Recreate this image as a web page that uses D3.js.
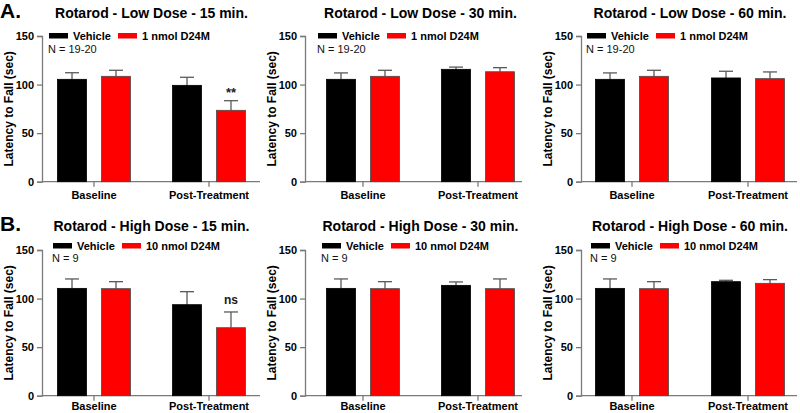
<!DOCTYPE html>
<html>
<head>
<meta charset="utf-8">
<script src="https://cdn.jsdelivr.net/npm/d3@7"></script>
<style>
  html, body { margin: 0; padding: 0; background: #fff; }
  svg { display: block; font-family: Arial, "Liberation Sans", sans-serif; }
</style>
</head>
<body>
<svg id="chart" width="800" height="413"></svg>
<script>
// ---------------- DATA ----------------
const groups = ["Baseline", "Post-Treatment"];
const rowLetters = ["A.", "B."];
const rowDoseNames = ["Low Dose", "High Dose"];
const rowDrugLabels = ["1 nmol D24M", "10 nmol D24M"];
const rowNLabels = ["N = 19-20", "N = 9"];
const timeLabels = ["15 min.", "30 min.", "60 min."];
const yTicks = [0, 50, 100, 150];

// Low dose (row A) means and SEM, per time point: [Baseline, Post-Treatment]
const lowVehicle15 = [105.4, 99.2];   const lowVehicle15Err = [6.8, 8.3];
const lowDrug15    = [108.5, 73.5];   const lowDrug15Err    = [6.2, 9.9];
const lowVehicle30 = [105.4, 115.7];  const lowVehicle30Err = [6.6, 2.3];
const lowDrug30    = [108.5, 113.2];  const lowDrug30Err    = [6.2, 4.2];
const lowVehicle60 = [105.4, 106.8];  const lowVehicle60Err = [6.6, 6.9];
const lowDrug60    = [108.5, 106.1];  const lowDrug60Err    = [6.2, 6.9];

// High dose (row B)
const highVehicle15 = [110.5, 93.7];  const highVehicle15Err = [9.7, 13.4];
const highDrug15    = [110.2, 70.0];  const highDrug15Err    = [7.2, 16.2];
const highVehicle30 = [110.5, 113.6]; const highVehicle30Err = [9.7, 3.5];
const highDrug30    = [110.2, 110.2]; const highDrug30Err    = [7.2, 10.0];
const highVehicle60 = [110.5, 117.4]; const highVehicle60Err = [9.7, 1.4];
const highDrug60    = [110.2, 115.7]; const highDrug60Err    = [7.2, 3.8];

// Significance annotations: [row, col, group, series, text]
const annotations = [
  [0, 0, "Post-Treatment", 1, "**"],
  [1, 0, "Post-Treatment", 1, "ns"]
];

// assemble panels (row-major)
const panelData = [
  [[lowVehicle15, lowVehicle15Err, lowDrug15, lowDrug15Err],
   [lowVehicle30, lowVehicle30Err, lowDrug30, lowDrug30Err],
   [lowVehicle60, lowVehicle60Err, lowDrug60, lowDrug60Err]],
  [[highVehicle15, highVehicle15Err, highDrug15, highDrug15Err],
   [highVehicle30, highVehicle30Err, highDrug30, highDrug30Err],
   [highVehicle60, highVehicle60Err, highDrug60, highDrug60Err]]
];

// ---------------- LAYOUT ----------------
const colAxisX = [42, 305, 581];
const colAxisEnd = [260, 522, 797];
const colCenters = [[94, 209], [363, 478], [632, 748]];
const rowTop = [36, 250];
const rowBottom = [181.7, 395.7];
const rowTitleY = [18, 231];
const rowLegendY = [39.5, 249.5];
const rowLegendDx = [-45, -41];
const rowNY = [53, 262];
const rowXLabelDy = [17, 14.5];
const letterY = [18, 231];
const colors = ["#000000", "#ff0000"];
const axisColor = "#7a7a7a";
const errColor = "#5a5a5a";

const svg = d3.select("#chart");

rowLetters.forEach((L, r) => {
  svg.append("text").attr("x", 0).attr("y", letterY[r])
    .attr("font-size", 21).attr("font-weight", "bold").attr("fill", "#000").text(L);
});

for (let r = 0; r < 2; r++) {
  const y = d3.scaleLinear().domain([0, 150]).range([rowBottom[r], rowTop[r]]);
  for (let c = 0; c < 3; c++) {
    const [veh, vehErr, drug, drugErr] = panelData[r][c];
    const series = ["Vehicle", rowDrugLabels[r]];
    const x = d3.scalePoint().domain(groups).range(colCenters[c]);
    const xs = d3.scaleBand().domain([0, 1]).range([-36.5, 36.5]).paddingInner(0.34);
    const g = svg.append("g");
    const x0 = colAxisX[c];

    // title
    const mid = (colCenters[c][0] + colCenters[c][1]) / 2;
    g.append("text").attr("x", mid).attr("y", rowTitleY[r])
      .attr("text-anchor", "middle").attr("font-size", 14).attr("font-weight", "bold")
      .text(`Rotarod - ${rowDoseNames[r]} - ${timeLabels[c]}`);

    // y axis
    const yAxis = d3.axisLeft(y).tickValues(yTicks).tickSize(5).tickPadding(3);
    const ya = g.append("g").attr("transform", `translate(${x0},0)`).call(yAxis);
    ya.select(".domain").attr("stroke", axisColor).attr("stroke-width", 1.3);
    ya.selectAll(".tick line").attr("stroke", axisColor).attr("stroke-width", 1.3);
    ya.selectAll(".tick text").attr("font-size", 11).attr("font-weight", "bold")
      .attr("fill", "#000").attr("font-family", "Arial, 'Liberation Sans', sans-serif");

    // y label
    g.append("text")
      .attr("transform", `translate(${x0 - 33},${(rowTop[r] + rowBottom[r]) / 2}) rotate(-90)`)
      .attr("text-anchor", "middle").attr("dominant-baseline", "central")
      .attr("font-size", 12).attr("font-weight", "bold").text("Latency to Fall (sec)");

    // x axis line
    g.append("line").attr("x1", x0).attr("x2", colAxisEnd[c])
      .attr("y1", y(0)).attr("y2", y(0))
      .attr("stroke", axisColor).attr("stroke-width", 1.3);
    groups.forEach(gr => {
      g.append("line").attr("x1", x(gr)).attr("x2", x(gr))
        .attr("y1", y(0)).attr("y2", y(0) + 5)
        .attr("stroke", axisColor).attr("stroke-width", 1.3);
      g.append("text").attr("x", x(gr)).attr("y", y(0) + rowXLabelDy[r])
        .attr("text-anchor", "middle").attr("font-size", 11).attr("font-weight", "bold")
        .text(gr);
    });

    // bars and error bars
    const seriesVals = [[veh, vehErr], [drug, drugErr]];
    seriesVals.forEach(([vals, errs], s) => {
      groups.forEach((gr, i) => {
        const bx = x(gr) + xs(s);
        const bw = xs.bandwidth();
        const cx = bx + bw / 2;
        const top = y(vals[i]);
        const et = y(vals[i] + errs[i]);
        g.append("line").attr("x1", cx).attr("x2", cx).attr("y1", top).attr("y2", et)
          .attr("stroke", errColor).attr("stroke-width", 1.3);
        g.append("line").attr("x1", cx - 7).attr("x2", cx + 7).attr("y1", et).attr("y2", et)
          .attr("stroke", errColor).attr("stroke-width", 1.3);
        g.append("rect").attr("x", bx).attr("y", top).attr("width", bw)
          .attr("height", y(0) - top).attr("fill", colors[s])
          .attr("stroke", s === 0 ? "#000" : "#4a4a4a").attr("stroke-width", 0.8);
      });
    });

    // annotations
    annotations.filter(a => a[0] === r && a[1] === c).forEach(a => {
      const i = groups.indexOf(a[2]);
      const s = a[3];
      const vals = seriesVals[s][0], errs = seriesVals[s][1];
      const cx = x(a[2]) + xs(s) + xs.bandwidth() / 2;
      const isStar = a[4].indexOf("*") >= 0;
      g.append("text").attr("x", cx).attr("y", y(vals[i] + errs[i]) - (isStar ? 4 : 8))
        .attr("text-anchor", "middle").attr("font-size", isStar ? 13 : 12)
        .attr("font-weight", "bold").attr("fill", "#1a1a1a").text(a[4]);
    });

    // legend
    const lx = colCenters[c][0] + rowLegendDx[r];
    const ly = rowLegendY[r];
    [0, 1].forEach(s => {
      const rx = lx + (s === 0 ? 0 : 69);
      g.append("rect").attr("x", rx).attr("y", ly - 6.5).attr("width", 19).attr("height", 5.5)
        .attr("fill", colors[s]);
      g.append("text").attr("x", rx + 24).attr("y", ly)
        .attr("font-size", 11).attr("font-weight", "bold").text(series[s]);
    });
    g.append("text").attr("x", lx - 1).attr("y", rowNY[r])
      .attr("font-size", 11).attr("fill", "#111").text(rowNLabels[r]);
  }
}
</script>
</body>
</html>
